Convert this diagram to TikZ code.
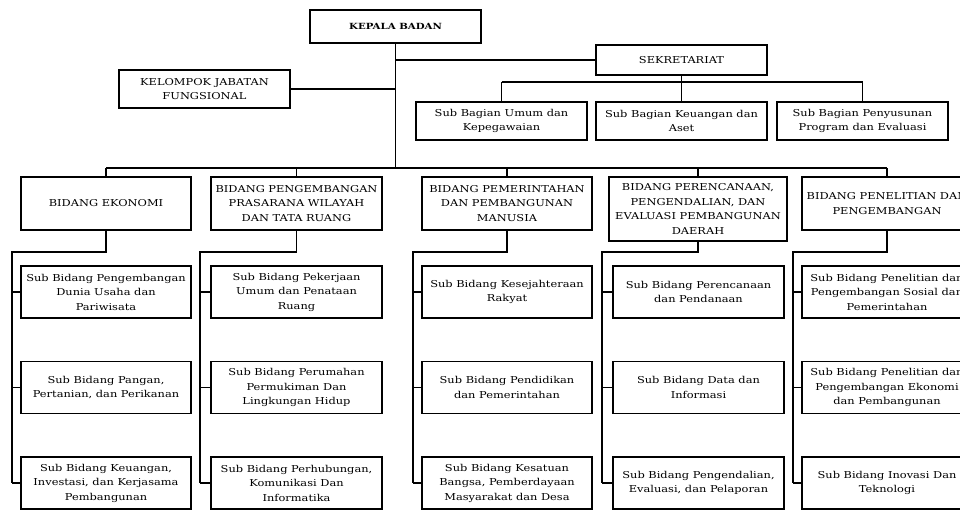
\documentclass[tikz,border=0pt]{standalone}
\usepackage{fontspec}
\setmainfont[FakeStretch=1.2]{DejaVu Serif}
\usetikzlibrary{positioning,calc}
\tikzset{
	kotak/.style={draw, line width=1.1pt, align=center, inner sep=1pt, minimum width=171pt, minimum height=52pt, font=\fontsize{9.5}{14.5}\selectfont},
	garis/.style={line width=1.1pt},
}

\begin{document}
\begin{tikzpicture}[x=1pt,y=-1pt]
				\useasboundingbox (0,0) rectangle (960,509);
				\clip (0,0) rectangle (960,509);
				\coordinate (bus) at (0,168);
				\coordinate (brk) at (0,82);
				\node[kotak, minimum height=33pt, font=\fontsize{8.5}{12}\selectfont\bfseries] (kepala) at (395.5,26.5) {KEPALA BADAN};
				\node[kotak, minimum height=30pt] (sekre) at (681.5,60) {SEKRETARIAT};
				\node[kotak, minimum height=38pt] (kelompok) at (204.5,89) {KELOMPOK JABATAN\\FUNGSIONAL};
				\node[kotak, minimum height=38pt] (sb1) at (501.5,121) {Sub Bagian Umum dan\\Kepegawaian};
				\node[kotak, minimum height=38pt] (sb2) at (681.5,121) {Sub Bagian Keuangan dan\\Aset};
				\node[kotak, minimum height=38pt] (sb3) at (862.5,121) {Sub Bagian Penyusunan\\Program dan Evaluasi};
				\node[kotak, minimum height=53pt, minimum width=170pt] (bid1) at (106,203.5) {BIDANG EKONOMI};
				\node[kotak, minimum height=53pt] (bid2) at (296.5,203.5) {BIDANG PENGEMBANGAN\\PRASARANA WILAYAH\\DAN TATA RUANG};
				\node[kotak, minimum height=53pt, minimum width=170pt] (bid3) at (507,203.5) {BIDANG PEMERINTAHAN\\DAN PEMBANGUNAN\\MANUSIA};
				\node[kotak, minimum height=64pt, minimum width=178pt] (bid4) at (698,209) {BIDANG PERENCANAAN,\\PENGENDALIAN, DAN\\EVALUASI PEMBANGUNAN\\DAERAH};
				\node[kotak, minimum height=53pt, minimum width=170pt] (bid5) at (887,203.5) {BIDANG PENELITIAN DAN\\PENGEMBANGAN};
				\node[kotak, minimum width=170pt] (sub-1-1) at (106,292) {Sub Bidang Pengembangan\\Dunia Usaha dan\\Pariwisata};
				\node[kotak, minimum width=170pt] (sub-1-2) at (106,387.5) {Sub Bidang Pangan,\\Pertanian, dan Perikanan};
				\node[kotak, minimum width=170pt] (sub-1-3) at (106,483) {Sub Bidang Keuangan,\\Investasi, dan Kerjasama\\Pembangunan};
				\node[kotak] (sub-2-1) at (296.5,292) {Sub Bidang Pekerjaan\\Umum dan Penataan\\Ruang};
				\node[kotak] (sub-2-2) at (296.5,387.5) {Sub Bidang Perumahan\\Permukiman Dan\\Lingkungan Hidup};
				\node[kotak] (sub-2-3) at (296.5,483) {Sub Bidang Perhubungan,\\Komunikasi Dan\\Informatika};
				\node[kotak, minimum width=170pt] (sub-3-1) at (507,292) {Sub Bidang Kesejahteraan\\Rakyat};
				\node[kotak, minimum width=170pt] (sub-3-2) at (507,387.5) {Sub Bidang Pendidikan\\dan Pemerintahan};
				\node[kotak, minimum width=170pt] (sub-3-3) at (507,483) {Sub Bidang Kesatuan\\Bangsa, Pemberdayaan\\Masyarakat dan Desa};
				\node[kotak] (sub-4-1) at (698.5,292) {Sub Bidang Perencanaan\\dan Pendanaan};
				\node[kotak] (sub-4-2) at (698.5,387.5) {Sub Bidang Data dan\\Informasi};
				\node[kotak] (sub-4-3) at (698.5,483) {Sub Bidang Pengendalian,\\Evaluasi, dan Pelaporan};
				\node[kotak, minimum width=170pt] (sub-5-1) at (887,292) {Sub Bidang Penelitian dan\\Pengembangan Sosial dan\\Pemerintahan};
				\node[kotak, minimum width=170pt] (sub-5-2) at (887,387.5) {Sub Bidang Penelitian dan\\Pengembangan Ekonomi\\dan Pembangunan};
				\node[kotak, minimum width=170pt] (sub-5-3) at (887,483) {Sub Bidang Inovasi Dan\\Teknologi};
				\draw[garis] (kepala.south) -- (kepala.south |- bus);
				\draw[garis] (kelompok.east) -- (kelompok.east -| kepala.south);
				\draw[garis] (sekre.west) -- (sekre.west -| kepala.south);
				\draw[garis] (sekre.south) -- (sekre.south |- brk);
				\draw[garis] (sb1.north |- brk) -- (sb3.north |- brk);
				\draw[garis] (sb1.north) -- (sb1.north |- brk);
				\draw[garis] (sb2.north) -- (sb2.north |- brk);
				\draw[garis] (sb3.north) -- (sb3.north |- brk);
				\draw[garis] (bid1.north |- bus) -- (bid5.north |- bus);
				\foreach \k/\x in {1/12,2/200,3/413,4/602,5/793}{
					\coordinate (sp\k) at (\x,252);
					\draw[garis] (bid\k.north) -- (bid\k.north |- bus);
					\draw[garis] (bid\k.south) -- (bid\k.south |- sp\k) -- (sp\k) -- (sp\k |- sub-\k-3.west);
					\draw[garis] (sp\k |- sub-\k-1.west) -- (sub-\k-1.west);
					\draw[garis] (sp\k |- sub-\k-2.west) -- (sub-\k-2.west);
					\draw[garis] (sp\k |- sub-\k-3.west) -- (sub-\k-3.west);
				}
			\end{tikzpicture}
\end{document}
